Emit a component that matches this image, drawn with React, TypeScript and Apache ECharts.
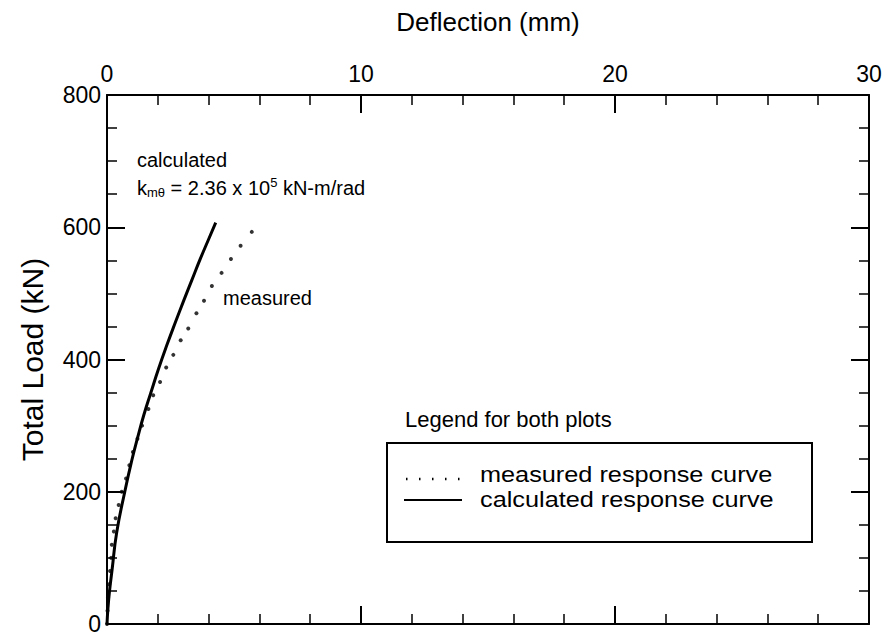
import React, { useEffect, useRef } from "react";
import * as echarts from "echarts";

// measured response: [deflection (mm), total load (kN)]
const measuredDeflection = [0, 0.02, 0.04, 0.08, 0.12, 0.16, 0.19, 0.27, 0.34, 0.46, 0.58, 0.75, 0.88, 1.02, 1.2, 1.38, 1.63, 1.82, 2.09, 2.33, 2.61, 2.9, 3.2, 3.52, 3.82, 4.13, 4.51, 4.88, 5.26, 5.7];
const measuredLoad = [0, 20, 40, 60, 80, 100, 120, 140, 160, 180, 200, 220, 240, 260, 280, 300, 325, 346, 366, 388, 407, 429, 447, 470, 489, 511, 531, 552, 572, 593];

// calculated response curve
const calcDeflection = [0, 0.04, 0.1, 0.2, 0.38, 0.7, 0.98, 1.2, 1.45, 1.72, 2.03, 2.35, 2.7, 3.02, 3.34, 3.66, 3.98, 4.28];
const calcLoad = [0, 25, 50, 82, 138, 200, 248, 281, 316, 349, 386, 421, 457, 489, 520, 551, 580, 607];

const xTicks = [0, 10, 20, 30];
const yTicks = [0, 200, 400, 600, 800];

const FONT = "'Liberation Sans', Arial, Helvetica, sans-serif";

export default function App() {
  const ref = useRef<HTMLDivElement>(null);
  useEffect(() => {
    if (!ref.current) return;
    const chart = echarts.init(ref.current, null, { renderer: "svg" });
    const axisLine = { show: true, onZero: false, lineStyle: { color: "#000", width: 2 } };
    const tick = { show: true, inside: true, length: 18, lineStyle: { color: "#000", width: 2 } };
    const xMinor = { show: true, splitNumber: 5, length: 10, lineStyle: { color: "#000", width: 1.5 } };
    const yMinor = { show: true, splitNumber: 4, length: 10, lineStyle: { color: "#000", width: 1.5 } };
    const xBase = { type: "value", min: xTicks[0], max: xTicks[xTicks.length - 1], interval: 10, splitLine: { show: false }, axisLine, axisTick: tick, minorTick: xMinor };
    const yBase = { type: "value", min: yTicks[0], max: yTicks[yTicks.length - 1], interval: 200, splitLine: { show: false }, axisLine, axisTick: tick, minorTick: yMinor };
    chart.setOption({
      animation: false,
      backgroundColor: "#fff",
      textStyle: { fontFamily: FONT },
      grid: { left: 107, right: 19, top: 95, bottom: 14 },
      xAxis: [
        {
          ...xBase,
          position: "top",
          name: "Deflection (mm)",
          nameLocation: "middle",
          nameGap: 60,
          nameTextStyle: { fontSize: 26, color: "#000", fontFamily: FONT },
          axisLabel: { show: true, fontSize: 23, color: "#000", margin: 10, fontFamily: FONT },
        },
        { ...xBase, position: "bottom", axisLabel: { show: false } },
      ],
      yAxis: [
        {
          ...yBase,
          position: "left",
          name: "Total Load (kN)",
          nameLocation: "middle",
          nameGap: 60,
          nameTextStyle: { fontSize: 30, color: "#000", fontFamily: FONT },
          axisLabel: { show: true, fontSize: 23, color: "#000", margin: 6, fontFamily: FONT },
        },
        { ...yBase, position: "right", axisLabel: { show: false } },
      ],
      series: [
        {
          name: "calculated response curve",
          type: "line",
          xAxisIndex: 0,
          yAxisIndex: 0,
          data: calcDeflection.map((d, i) => [d, calcLoad[i]]),
          showSymbol: false,
          smooth: 0.5,
          lineStyle: { color: "#000", width: 3 },
        },
        {
          name: "measured response curve",
          type: "scatter",
          xAxisIndex: 0,
          yAxisIndex: 0,
          data: measuredDeflection.map((d, i) => [d, measuredLoad[i]]),
          symbol: "circle",
          symbolSize: 4,
          itemStyle: { color: "#000" },
        },
      ],
      graphic: [
        { type: "text", left: 137, top: 150, style: { text: "calculated", fontSize: 20, fill: "#000", fontFamily: FONT } },
        {
          type: "text",
          left: 137,
          top: 176,
          style: {
            text: "k{sub|mθ} = 2.36 x 10{sup|5} kN-m/rad",
            fontSize: 20,
            fill: "#000",
            fontFamily: FONT,
            rich: {
              sub: { fontSize: 13, verticalAlign: "bottom", padding: [10, 0, 0, 0], fontFamily: FONT },
              sup: { fontSize: 13, verticalAlign: "top", padding: [0, 0, 10, 0], fontFamily: FONT },
            },
          },
        },
        { type: "text", left: 223, top: 288, style: { text: "measured", fontSize: 20, fill: "#000", fontFamily: FONT } },
        { type: "text", left: 405, top: 408, style: { text: "Legend for both plots", fontSize: 22, fill: "#000", fontFamily: FONT } },
        { type: "rect", shape: { x: 387, y: 443, width: 425, height: 99 }, style: { fill: "#fff", stroke: "#000", lineWidth: 2 } },
        { type: "line", shape: { x1: 406, y1: 479, x2: 460, y2: 479 }, style: { stroke: "#000", lineWidth: 2.5, lineDash: [1.5, 11.5] } },
        { type: "text", x: 480, y: 475, scaleX: 1.15, style: { text: "measured response curve", fontSize: 22, fill: "#000", fontFamily: FONT, verticalAlign: "middle" } },
        { type: "line", shape: { x1: 404, y1: 500, x2: 462, y2: 500 }, style: { stroke: "#000", lineWidth: 2 } },
        { type: "text", x: 480, y: 500, scaleX: 1.15, style: { text: "calculated response curve", fontSize: 22, fill: "#000", fontFamily: FONT, verticalAlign: "middle" } },
      ],
    });
    return () => chart.dispose();
  }, []);
  return <div ref={ref} style={{ position: "fixed", left: 0, top: 0, width: 888, height: 638 }} />;
}
